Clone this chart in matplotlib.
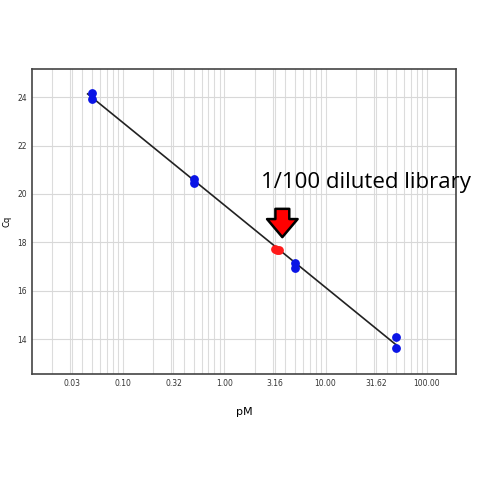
import numpy as np
import matplotlib.pyplot as plt
from matplotlib.ticker import FixedLocator, LogLocator, NullFormatter

# standards (pM, Cq)
std_pm = [0.05, 0.05, 0.5, 0.5, 5.0, 5.0, 50.0, 50.0]
std_cq = [24.17, 23.92, 20.62, 20.45, 17.15, 16.95, 14.07, 13.61]
# sample (1/100 diluted library)
smp_pm = [3.2, 3.35, 3.5]
smp_cq = [17.72, 17.70, 17.68]

xticks = [10**-1.5, 0.1, 10**-0.5, 1.0, 10**0.5, 10.0, 10**1.5, 100.0]
xlabels = ['0.03', '0.10', '0.32', '1.00', '3.16', '10.00', '31.62', '100.00']
yticks = [14, 16, 18, 20, 22, 24]

fig = plt.figure(figsize=(4.79, 4.79), dpi=100)
ax = fig.add_axes([0.066, 0.219, 0.887, 0.637])
ax.set_xscale('log')
ax.set_xlim(0.0126, 196)
ax.set_ylim(12.55, 25.17)

# grid
ax.xaxis.set_major_locator(FixedLocator(xticks))
ax.set_xticklabels(xlabels)
ax.xaxis.set_minor_locator(LogLocator(base=10, subs=np.arange(1, 10)))
ax.xaxis.set_minor_formatter(NullFormatter())
ax.set_yticks(yticks)
ax.grid(True, which='both', axis='x', color='#dcdcdc', lw=0.8)
ax.grid(True, which='major', axis='y', color='#d8d8d8', lw=0.8)
ax.set_axisbelow(True)
ax.tick_params(which='both', length=0, labelsize=5.5, colors='#333333')
for s in ax.spines.values():
    s.set_color('#444444')
    s.set_linewidth(1.2)

# fit line
k, b = np.polyfit(np.log10(std_pm), std_cq, 1)
fx = np.array([0.045, 50.0])
ax.plot(fx, k * np.log10(fx) + b, color='#222222', lw=1.2, zorder=2)

ax.scatter(std_pm, std_cq, s=28, color='#0a14e6', zorder=3)
ax.scatter(smp_pm, smp_cq, s=28, color='#ff1a1a', zorder=3)

ax.set_xlabel('pM', fontsize=8, labelpad=14)
ax.set_ylabel('Cq', fontsize=6)

ax.annotate('', xy=(3.75, 18.1), xytext=(3.75, 19.5),
            arrowprops=dict(arrowstyle='simple,head_width=2.2,head_length=1.3,tail_width=1.0',
                            fc='red', ec='black', lw=1.8))
ax.text(2.3, 20.05, '1/100 diluted library', fontsize=16, color='black',
        family='Open Sans', va='bottom', ha='left', clip_on=False)

fig.savefig('out.png', dpi=100)
